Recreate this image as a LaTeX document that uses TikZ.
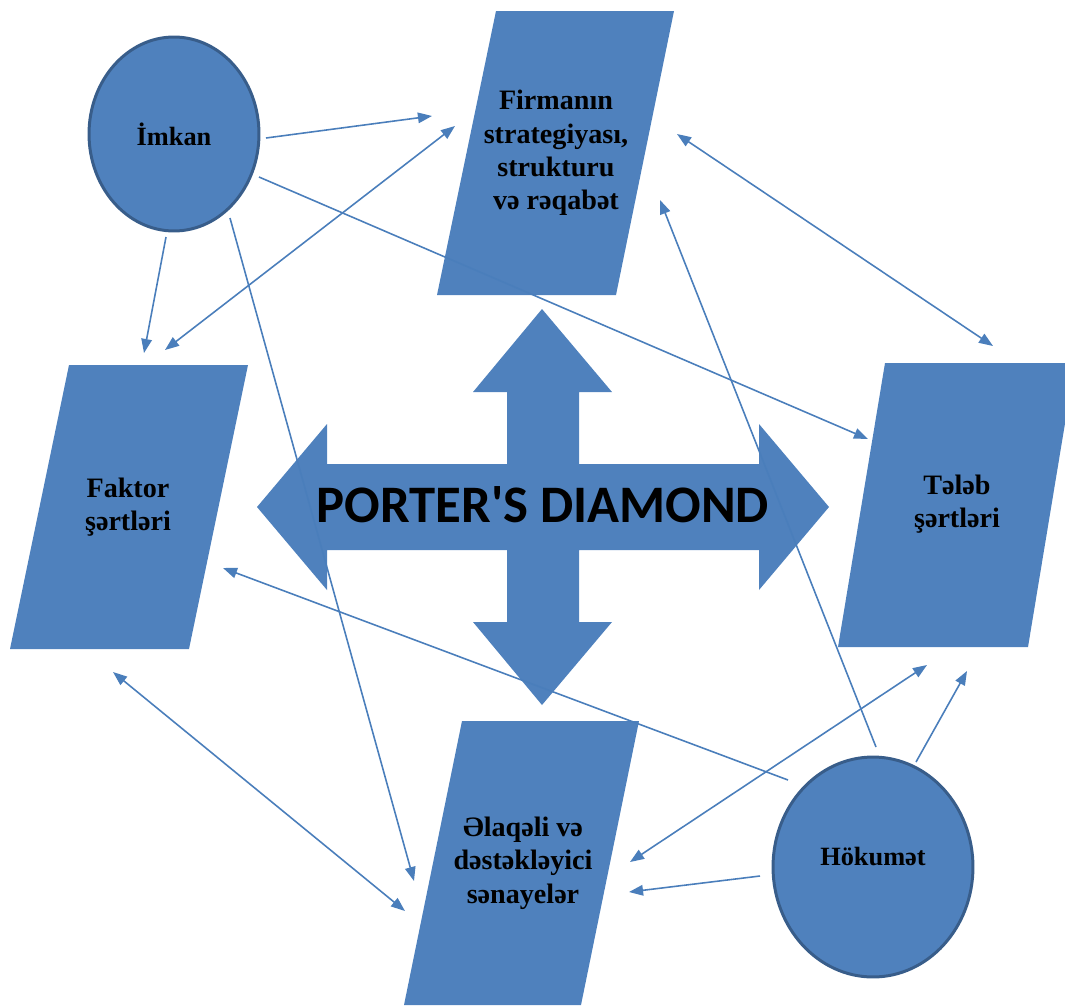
\documentclass[tikz,border=0pt]{standalone}
\usepackage{fontspec}
\setmainfont{Liberation Serif}
\newfontfamily\porterfont{Carlito}
\usetikzlibrary{arrows.meta,shapes.geometric}
\definecolor{boxblue}{HTML}{4F81BD}
\definecolor{rimblue}{HTML}{385D8A}
\definecolor{lineblue}{HTML}{4A7EBB}
\begin{document}
\begin{tikzpicture}[x=0.02cm,y=-0.02cm,
	box/.style={fill=boxblue},
	lbl/.style={font=\fontsize{16}{19}\selectfont\bfseries,align=center},
	circ/.style={ellipse,draw=rimblue,line width=1.7pt,fill=boxblue,lbl,font=\fontsize{15}{18}\selectfont\bfseries},
	oneway/.style={draw=lineblue,line width=0.9pt,-{Triangle[length=8pt,width=6pt]}},
	twoway/.style={oneway,{Triangle[length=8pt,width=6pt]}-{Triangle[length=8pt,width=6pt]}}]
	\useasboundingbox (0,0) rectangle (1065,1005);
	\clip (0,0) rectangle (1065,1005);
	% four boxes
	\fill[box] (496,11)--(674,11)--(616,295)--(437,295)--cycle;
	\fill[box] (69,365)--(248,365)--(189,649)--(10,649)--cycle;
	\fill[box] (885,363)--(1075,363)--(1028,647)--(838,647)--cycle;
	\fill[box] (462,721)--(639,721)--(581,1005)--(404,1005)--cycle;
	% cross in the middle
	\fill[box] (257,507)--(327,424)--(327,464)--(507,464)--(507,392)--(473,392)--(542,309)--(612,392)--(579,392)--(579,464)--(759,464)--(759,424)--(829,507)--(759,590)--(759,550)--(579,550)--(579,622)--(612,622)--(542,705)--(473,622)--(507,622)--(507,550)--(327,550)--(327,590)--cycle;
	\node[font={\fontsize{30}{36}\porterfont\bfseries}] (porter) at (543,505) {PORTER\textquotesingle S DIAMOND};
	\node[lbl] (firma) at (556,153) {Firmanın\\strategiyası,\\strukturu\\və rəqabət};
	\node[lbl] (faktor) at (128,507) {Faktor\\şərtləri};
	\node[lbl] (teleb) at (957,504) {Tələb\\şərtləri};
	\node[lbl] (elaqeli) at (523,863) {Əlaqəli və\\dəstəkləyici\\sənayelər};
	\node[circ,minimum width=3.4cm,minimum height=3.88cm] (imkan) at (174,134) {İmkan};
	\node[circ,minimum width=4cm,minimum height=4.4cm,label={[circ,draw=none,fill=none,name=hokumet-txt,yshift=0.2cm]center:Hökumət}] (hokumet) at (873,867) {};
	% connector ends
	\foreach \n/\p in {im1/{266,138},fi1/{432,116},fa1/{165,350},fi2/{455,126},im2/{166,237},fa2/{144,353},
		im3/{230,218},el1/{414,881},im4/{259,177},te1/{868,439},fi3/{677,134},te2/{993,346},
		ho1/{876,747},fi4/{660,200},ho2/{788,780},fa3/{223,568},el2/{630,862},te3/{927,665},
		ho3/{916,762},te4/{967,671},ho4/{760,876},el3/{629,892},fa4/{113,672},el4/{405,911}}
	\coordinate (\n) at (\p);
	\foreach \a/\b in {im1/fi1,im2/fa2,im3/el1,im4/te1,ho1/fi4,ho2/fa3,ho3/te4,ho4/el3}
	\draw[oneway] (\a)--(\b);
	\foreach \a/\b in {fa1/fi2,fi3/te2,el2/te3,fa4/el4}
	\draw[twoway] (\a)--(\b);
\end{tikzpicture}
\end{document}
